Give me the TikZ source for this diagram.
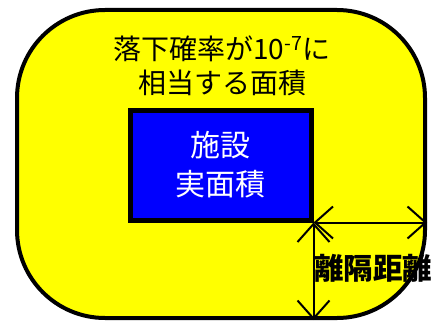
\documentclass[tikz,border=0pt]{standalone}
\usepackage{fontspec}
\setmainfont{Noto Sans CJK JP}
\usepackage{tikz}
\usetikzlibrary{arrows.meta}
\definecolor{zoneyellow}{RGB}{255,255,0}
\definecolor{siteblue}{RGB}{0,0,255}

\begin{document}
\begin{tikzpicture}[x=1pt, y=-1pt,
    zone/.style={draw=black, line width=4pt, fill=zoneyellow, rounded corners=88pt,
        minimum width=408pt, minimum height=308pt, inner sep=0pt},
    site/.style={draw=black, line width=5pt, fill=siteblue, text=white, align=center,
        minimum width=181pt, minimum height=110pt, inner sep=0pt,
        font=\fontsize{30pt}{39pt}\selectfont},
    gap/.style={{Straight Barb[length=18pt,width=32pt]}-{Straight Barb[length=18pt,width=32pt]},
        line width=2pt}]

    \useasboundingbox (0,0) rectangle (435,326);

    \node[zone] (zone) at (221,164) {};
    \node[align=center, inner sep=0pt, font=\fontsize{28pt}{34pt}\selectfont] (title) at (222,66)
        {落下確率が10\textsuperscript{-7}に\\相当する面積};
    \node[site] (site) at (220.5,165) {施設\\実面積};

    \coordinate (corner) at (site.south east);
    \coordinate (edgeR) at (corner -| zone.east);
    \coordinate (edgeB) at (corner |- zone.south);

    \draw[gap] (corner) -- (edgeR);
    \draw[gap] (corner) -- (edgeB);
    \node[anchor=west, inner sep=0pt, font=\fontsize{29.5pt}{36pt}\selectfont\bfseries] (dist) at (314,268) {離隔距離};

\end{tikzpicture}
\end{document}
